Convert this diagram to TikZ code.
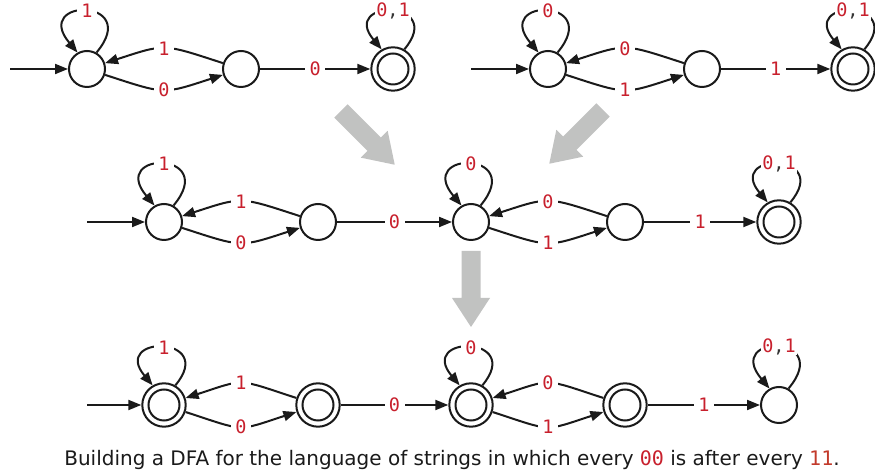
\documentclass[tikz,border=0pt]{standalone}
\usepackage{fontspec}
\setmainfont{DejaVu Sans}
\setmonofont{DejaVu Sans Mono}
\usetikzlibrary{arrows.meta}

\definecolor{symred}{HTML}{C8202D}
\definecolor{capred}{HTML}{C23A2B}
\definecolor{commagray}{HTML}{333333}
\definecolor{bigarrow}{HTML}{C1C2C1}
\definecolor{inkblack}{HTML}{1A1A1A}

\tikzset{
  dfastate/.style={circle, draw=inkblack, line width=2pt, minimum size=36pt, inner sep=0pt},
  dfaaccept/.style={dfastate, minimum size=43.4pt,
    path picture={\draw[inkblack, line width=2pt] (path picture bounding box.center) circle (15.5pt);}},
  trans/.style={draw=inkblack, line width=2pt, -{Triangle[length=13pt,width=10pt]}},
  sym/.style={fill=white, text=symred, font=\ttfamily\fontsize{18.5}{20}\selectfont,
    inner xsep=1pt, inner ysep=0pt, minimum width=20pt, minimum height=14pt},
  caption/.style={text=inkblack, font=\fontsize{20}{24}\selectfont, inner sep=0pt},
}

% self loop drawn above a state
\newcommand{\selfloop}[3]{%
  \draw[trans] (#1.60) .. controls +(50:#2) and +(130:#2) .. node[sym]{#3} (#1.120);}
% pair of bent transitions between neighbouring states
\newcommand{\bendpair}[4]{%
  \draw[trans] (#1.-18) .. controls +(-18:64) and +(-162:64) .. node[sym]{#3} (#2.-162);
  \draw[trans] (#2.162) .. controls +(162:64) and +(18:64) .. node[sym]{#4} (#1.18);}
% broad grey arrow between the stages
\newcommand{\fatarrow}[2]{%
  \fill[bigarrow, shift={(#1)}, rotate=#2]
    (0,9.5) -- (47,9.5) -- (47,19) -- (76,0) -- (47,-19) -- (47,-9.5) -- (0,-9.5) -- cycle;}
\newcommand{\zeroone}{0{\color{commagray},}1}

\begin{document}
\begin{tikzpicture}[x=1pt, y=1pt]
\useasboundingbox (0,0) rectangle (875,473);

% ---- top left: strings containing 00
\node[dfastate]  (a1) at (87,404)  {};
\node[dfastate]  (b1) at (241,404) {};
\node[dfaaccept] (c1) at (393,404) {};
\coordinate (s1) at (10,404);
\draw[trans] (s1) -- (a1);
\selfloop{a1}{72}{1}
\bendpair{a1}{b1}{0}{1}
\draw[trans] (b1) -- node[sym]{0} (c1);
\selfloop{c1}{66}{\zeroone}

% ---- top right: strings containing 11
\node[dfastate]  (a2) at (548,404) {};
\node[dfastate]  (b2) at (702,404) {};
\node[dfaaccept] (c2) at (853,404) {};
\coordinate (s2) at (471,404);
\draw[trans] (s2) -- (a2);
\selfloop{a2}{72}{0}
\bendpair{a2}{b2}{1}{0}
\draw[trans] (b2) -- node[sym]{1} (c2);
\selfloop{c2}{66}{\zeroone}

% ---- middle: some 00 before some 11
\node[dfastate]  (m1) at (164,251) {};
\node[dfastate]  (m2) at (318,251) {};
\node[dfastate]  (m3) at (471,251) {};
\node[dfastate]  (m4) at (625,251) {};
\node[dfaaccept] (m5) at (779,251) {};
\coordinate (s3) at (87,251);
\draw[trans] (s3) -- (m1);
\selfloop{m1}{72}{1}
\bendpair{m1}{m2}{0}{1}
\draw[trans] (m2) -- node[sym]{0} (m3);
\selfloop{m3}{72}{0}
\bendpair{m3}{m4}{1}{0}
\draw[trans] (m4) -- node[sym]{1} (m5);
\selfloop{m5}{66}{\zeroone}

% ---- bottom: complement
\node[dfaaccept] (n1) at (164,68) {};
\node[dfaaccept] (n2) at (318,68) {};
\node[dfaaccept] (n3) at (471,68) {};
\node[dfaaccept] (n4) at (625,68) {};
\node[dfastate]  (n5) at (779,68) {};
\coordinate (s4) at (87,68);
\draw[trans] (s4) -- (n1);
\selfloop{n1}{66}{1}
\bendpair{n1}{n2}{0}{1}
\draw[trans] (n2) -- node[sym]{0} (n3);
\selfloop{n3}{66}{0}
\bendpair{n3}{n4}{1}{0}
\draw[trans] (n4) -- node[sym]{1} (n5);
\selfloop{n5}{72}{\zeroone}

% ---- stage arrows
\fatarrow{341,362}{-45}
\fatarrow{603,363}{-135}
\fatarrow{471,222}{-90}

% ---- caption
\node[caption] (cap) at (452,13)
  {Building a DFA for the language of strings in which every
   {\ttfamily\color{symred}00} is after every {\ttfamily\color{capred}11}.};
\end{tikzpicture}
\end{document}
